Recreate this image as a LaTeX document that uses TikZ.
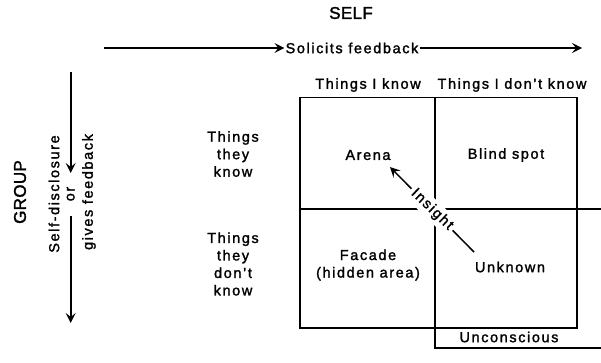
\documentclass[tikz,border=0pt]{standalone}
\usepackage{fontspec}
\setmainfont{Liberation Sans}[LetterSpace=11, FakeBold=1.6]
\usetikzlibrary{arrows.meta}
\begin{document}
\begin{tikzpicture}[x=1pt,y=-1pt,
  every node/.style={font=\fontsize{14.5}{17.5}\selectfont, inner sep=1pt},
  heading/.style={font=\fontsize{17}{20}\selectfont\addfontfeatures{LetterSpace=2, FakeBold=1.8}},
  lbl/.style={align=center},
  grid/.style={line width=1.5pt},
  flow/.style={line width=1.6pt, -{Stealth[length=10pt,width=10pt,inset=4pt]}},
  ins/.style={line width=1.5pt, -{Stealth[length=10pt,width=10pt,inset=4pt]}}]
\useasboundingbox (0,0) rectangle (601,362);

% headings
\node (self) at (351,13) [heading] {SELF};
\node (group) at (20,192) [heading, rotate=90] {GROUP};

% horizontal axis: soliciting feedback
\coordinate (hstart) at (104,48);
\coordinate (hend) at (582,48);
\node (sol) at (352,48) {Solicits feedback};
\draw[flow] (hstart) -- (sol.west);
\draw[flow] (sol.east) -- (hend);

% vertical axis: self-disclosure or gives feedback
\coordinate (vstart) at (70.7,72);
\coordinate (vend) at (70.7,323);
\node (or) at (70.7,194) [rotate=90] {or};
\node (sd) at (54,194) [rotate=90] {Self-disclosure};
\node (gf) at (89,192) [rotate=90] {gives feedback};
\draw[flow] (vstart) -- (70.7,173);
\draw[flow] (70.7,216) -- (vend);

% column and row headings
\node (tik) at (368,85) {Things I know};
\node (tidk) at (512,85) {Things I don't know};
\node (ttk) at (233,154) [lbl] {Things\\they\\know};
\node (ttdk) at (233,264) [lbl] {Things\\they\\don't\\know};

% the window
\coordinate (tl) at (300,97.5);
\coordinate (br) at (577,328);
\draw[grid] (tl) rectangle (br);
\draw[grid] (435,97.5) -- (435,348) -- (601,348);
\draw[grid] (300,209) -- (601,209);

% quadrant names
\node (arena) at (368,155) {Arena};
\node (blind) at (506,155) {Blind spot};
\node (facade) at (368,265) [lbl] {Facade\\(hidden area)};
\node (unknown) at (510,267) {Unknown};
\node (uncon) at (509,337) {Unconscious};

% insight arrow from unknown towards arena
\coordinate (itail) at (474,252);
\coordinate (itip) at (390,167);
\draw[ins] (itail) -- node[fill=white, rotate=-44, inner sep=3pt] (insight) {Insight} (itip);
\end{tikzpicture}
\end{document}
